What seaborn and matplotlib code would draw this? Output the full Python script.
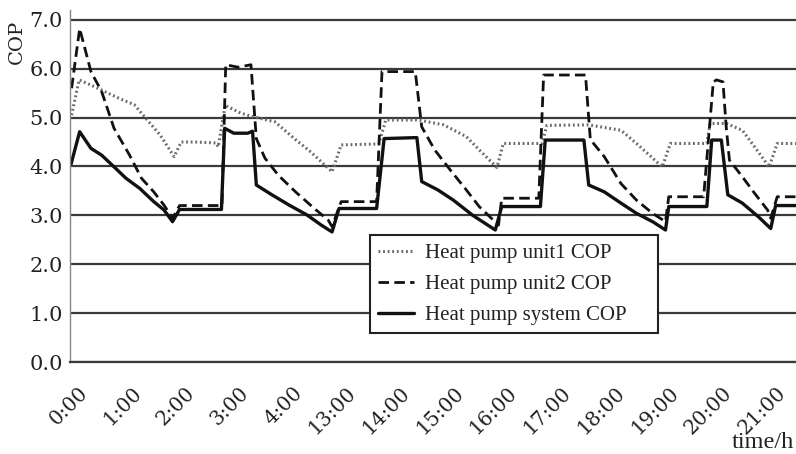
import numpy as np
import pandas as pd
import matplotlib
matplotlib.use("Agg")
import matplotlib.pyplot as plt
import matplotlib.transforms as mtransforms
import seaborn as sns

# x 값은 시각 라벨의 순번 (0 = 0:00, 5 = 13:00 ...), 그림에서 읽은 값
time_labels = ["0:00", "1:00", "2:00", "3:00", "4:00", "13:00", "14:00",
               "15:00", "16:00", "17:00", "18:00", "19:00", "20:00", "21:00"]

unit1_x = [0.03, 0.17, 0.46, 0.65, 0.92, 1.20, 1.33, 1.68, 1.94, 2.07, 2.33, 2.72, 2.76, 2.89, 3.18,
           3.40, 3.82, 4.21, 4.48, 4.88, 5.05, 5.75, 5.88, 6.49, 6.96, 7.38, 7.62, 7.95, 8.07, 8.79,
           8.88, 9.66, 10.26, 10.55, 11.03, 11.18, 11.86, 11.92, 12.22, 12.52, 12.75, 13.02, 13.17, 13.55]
unit1_cop = [5.05, 5.77, 5.63, 5.53, 5.39, 5.26, 5.09, 4.64, 4.20, 4.50, 4.50, 4.48, 4.40, 5.25, 5.09,
             5.02, 4.91, 4.54, 4.30, 3.89, 4.44, 4.46, 4.95, 4.95, 4.85, 4.61, 4.34, 3.98, 4.47, 4.47,
             4.84, 4.85, 4.74, 4.47, 3.99, 4.47, 4.47, 4.88, 4.88, 4.74, 4.40, 3.99, 4.47, 4.47]

unit2_x = [0.03, 0.18, 0.39, 0.59, 0.82, 1.11, 1.33, 1.56, 1.75, 1.91, 2.04, 2.83, 2.90, 3.13, 3.37,
           3.47, 3.63, 3.88, 4.20, 4.55, 4.81, 4.88, 5.05, 5.71, 5.81, 6.43, 6.55, 6.79, 7.08, 7.38,
           7.62, 7.98, 8.04, 8.73, 8.82, 9.60, 9.69, 9.95, 10.26, 10.55, 10.85, 11.09, 11.15, 11.80,
           11.98, 12.04, 12.16, 12.22, 12.28, 12.52, 12.75, 12.99, 13.05, 13.17, 13.55]
unit2_cop = [5.60, 6.82, 5.94, 5.53, 4.78, 4.23, 3.76, 3.48, 3.21, 2.94, 3.20, 3.20, 6.08, 6.03, 6.08,
             4.57, 4.17, 3.82, 3.48, 3.14, 2.90, 2.77, 3.28, 3.28, 5.94, 5.94, 4.81, 4.34, 3.93, 3.52,
             3.18, 2.80, 3.35, 3.35, 5.87, 5.87, 4.55, 4.20, 3.65, 3.31, 3.04, 2.87, 3.38, 3.38,
             5.73, 5.77, 5.73, 4.81, 4.13, 3.79, 3.45, 3.11, 2.94, 3.38, 3.38]

system_x = [0.02, 0.18, 0.39, 0.59, 0.85, 1.04, 1.30, 1.56, 1.75, 1.91, 2.04, 2.82, 2.88, 3.05, 3.31,
            3.40, 3.47, 3.76, 4.08, 4.41, 4.68, 4.88, 5.01, 5.71, 5.85, 6.46, 6.55, 6.85, 7.14, 7.50,
            7.92, 8.04, 8.76, 8.85, 9.57, 9.66, 9.95, 10.26, 10.55, 10.85, 11.09, 11.15, 11.86, 11.95,
            12.13, 12.25, 12.52, 12.82, 13.05, 13.14, 13.55]
system_cop = [4.05, 4.71, 4.37, 4.23, 3.96, 3.76, 3.55, 3.28, 3.11, 2.87, 3.12, 3.12, 4.78, 4.68, 4.68,
              4.72, 3.62, 3.42, 3.21, 3.01, 2.80, 2.66, 3.14, 3.14, 4.57, 4.59, 3.69, 3.52, 3.31, 3.00,
              2.70, 3.18, 3.18, 4.54, 4.54, 3.62, 3.48, 3.25, 3.04, 2.87, 2.70, 3.18, 3.18, 4.54,
              4.54, 3.42, 3.25, 2.97, 2.73, 3.20, 3.20]

sns.set_style("white")
plt.rcParams["font.family"] = ["DejaVu Serif"]

fig = plt.figure(figsize=(7.96, 4.54), dpi=100)
ax = fig.add_axes([70 / 796, 92 / 454, 1 - 70 / 796, 352 / 454])

df1 = pd.DataFrame({"x": unit1_x, "cop": unit1_cop})
df2 = pd.DataFrame({"x": unit2_x, "cop": unit2_cop})
df3 = pd.DataFrame({"x": system_x, "cop": system_cop})

sns.lineplot(data=df1, x="x", y="cop", ax=ax, sort=False, estimator=None, color="#6a6a6a",
             lw=2.2, linestyle=(0, (0.6, 0.9)), label="Heat pump unit1 COP")
sns.lineplot(data=df2, x="x", y="cop", ax=ax, sort=False, estimator=None, color="#111111",
             lw=2.0, linestyle=(0, (3.8, 1.9)), label="Heat pump unit2 COP")
sns.lineplot(data=df3, x="x", y="cop", ax=ax, sort=False, estimator=None, color="#111111",
             lw=2.4, label="Heat pump system COP")

ax.set_xlim(0, 13.52)
ax.set_ylim(0, 7.2)
ax.set_yticks(np.arange(0, 8))
ax.set_yticklabels([f"{v:.1f}" for v in range(8)], fontsize=15, color="#222222")
ax.yaxis.grid(True, color="#3a3a3a", lw=1.6)
ax.xaxis.grid(False)
ax.set_axisbelow(True)
ax.tick_params(axis="y", length=0, pad=5)

ax.set_xticks(range(len(time_labels)))
ax.set_xticklabels(time_labels, rotation=45, ha="right", va="top", rotation_mode="anchor",
                   fontsize=14.5, color="#222222")
ax.tick_params(axis="x", length=5, width=1, color="#666666", pad=10)
shift = mtransforms.ScaledTranslation(8 / 100, 0, fig.dpi_scale_trans)
for lab in ax.get_xticklabels():
    lab.set_transform(lab.get_transform() + shift)

ax.set_xlabel("")
ax.set_ylabel("")
for side in ["top", "right"]:
    ax.spines[side].set_visible(False)
ax.spines["left"].set_color("#888888")
ax.spines["left"].set_linewidth(1.0)
ax.spines["bottom"].set_color("#3a3a3a")
ax.spines["bottom"].set_linewidth(1.6)

fig.text(17 / 796, 1 - 42 / 454, "COP", rotation=90, ha="center", va="center",
         fontsize=14, color="#222222")
fig.text(794 / 796, 1 - 442 / 454, "time/h", ha="right", va="center",
         fontsize=17.5, family="Liberation Serif", color="#222222")

leg = ax.legend(loc="upper left", bbox_to_anchor=(370 / 796, 1 - 343 / 454, 288 / 796, 108 / 454),
                bbox_transform=fig.transFigure, mode="expand", borderaxespad=0,
                prop={"family": "Liberation Serif", "size": 15}, frameon=True, fancybox=False,
                framealpha=1, edgecolor="#222222", handlelength=1.7, handletextpad=0.55,
                borderpad=0.4, labelspacing=0.55)
leg.get_frame().set_linewidth(1.5)
for t in leg.get_texts():
    t.set_color("#222222")

fig.savefig("out.png", dpi=100)
